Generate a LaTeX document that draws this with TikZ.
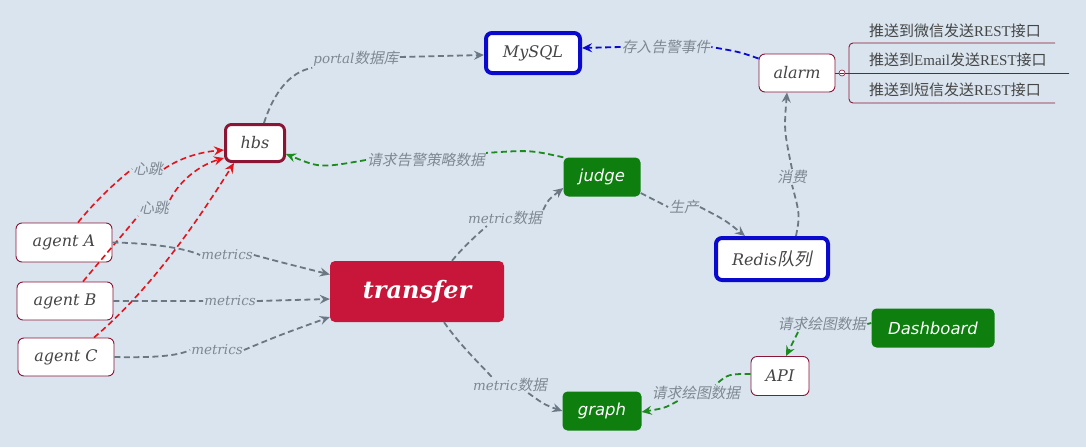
\documentclass[tikz,border=0pt]{standalone}
\usepackage{fontspec}
\setmainfont{DejaVu Serif}
\newfontfamily\sansf{DejaVu Sans}
\newfontfamily\cjk{Noto Sans CJK SC}
\newfontfamily\cjksl[FakeSlant=0.2,Scale=1.09]{Noto Sans CJK SC}
\newfontfamily\tms{Liberation Serif}
\usetikzlibrary{arrows.meta}
\definecolor{bgc}{HTML}{D9E4EE}
\definecolor{grayc}{HTML}{6B7783}
\definecolor{lblc}{HTML}{7D8893}
\definecolor{redc}{HTML}{E3131B}
\definecolor{greenl}{HTML}{1C8A1C}
\definecolor{greenf}{HTML}{0E7F0E}
\definecolor{bluec}{HTML}{0A0ACF}
\definecolor{dred}{HTML}{8A1535}
\definecolor{crim}{HTML}{C8153A}
\definecolor{txtc}{HTML}{454545}
\newcommand\zh[1]{{\cjksl #1}}
\tikzset{
  box/.style={rectangle, rounded corners=6pt, inner sep=0pt},
  wbox/.style={box, fill=white, draw=dred, line width=0.9pt, text=txtc, font=\fontsize{16}{19}\selectfont\itshape},
  bluebox/.style={wbox, draw=bluec, line width=4pt},
  hbsbox/.style={wbox, draw=dred, line width=3pt},
  gbox/.style={box, rounded corners=5pt, fill=greenf, text=white, font=\fontsize{16.5}{19}\selectfont\sansf\itshape},
  lbl/.style={inner sep=1pt, text=lblc, font=\fontsize{13.5}{16}\selectfont\itshape},
  arr/.style={-{Stealth[length=10pt,width=9pt,inset=3.5pt]}},
  gline/.style={draw=grayc, line width=1.8pt, dash pattern=on 6pt off 3.5pt, arr},
  rline/.style={draw=redc, line width=1.6pt, dash pattern=on 6pt off 3.5pt, arr},
  grline/.style={draw=greenl, line width=1.8pt, dash pattern=on 6pt off 3.5pt, arr},
  bline/.style={draw=bluec, line width=1.8pt, dash pattern=on 6pt off 3.5pt, arr},
  litem/.style={anchor=west, inner sep=0pt, text=txtc, font=\fontsize{15}{17}\selectfont}
}
\begin{document}
\begin{tikzpicture}[x=1pt,y=-1pt]
\fill[bgc] (0,0) rectangle (1086,447);
\useasboundingbox (0,0) rectangle (1086,447);

% nodes
\node[bluebox, minimum width=94, minimum height=40] (mysql) at (533,53) {MySQL};
\node[hbsbox, minimum width=59, minimum height=37] (hbs) at (255,143) {hbs};
\node[wbox, minimum width=76, minimum height=38] (alarm) at (797,73) {alarm};
\node[gbox, minimum width=77, minimum height=39] (judge) at (602,177) {judge};
\node[bluebox, minimum width=112, minimum height=42] (redis) at (772,259) {Redis\zh{队列}};
\node[box, rounded corners=5pt, fill=crim, text=white, minimum width=174, minimum height=61,
      font=\fontsize{24}{27}\selectfont\bfseries\itshape] (tr) at (417,291.5) {transfer};
\node[wbox, minimum width=96, minimum height=39] (agA) at (64,242.5) {agent A};
\node[wbox, minimum width=96, minimum height=38] (agB) at (65,301) {agent B};
\node[wbox, minimum width=96, minimum height=38] (agC) at (66,357) {agent C};
\node[gbox, minimum width=123, minimum height=39] (dash) at (933,328) {Dashboard};
\node[wbox, minimum width=58, minimum height=39] (api) at (780,376) {API};
\node[gbox, minimum width=79, minimum height=39] (graph) at (602,411) {graph};

% labels
\node[lbl] (l1) at (356,59) {portal\zh{数据库}};
\node[lbl] (l2) at (666,47) {\zh{存入告警事件}};
\node[lbl] (l3) at (426,160) {\zh{请求告警策略数据}};
\node[lbl] (h1) at (148,169) {\zh{心跳}};
\node[lbl] (h2) at (154,208) {\zh{心跳}};
\node[lbl] (lA) at (227,255) {metrics};
\node[lbl] (lB) at (230,301) {metrics};
\node[lbl] (lC) at (217,350) {metrics};
\node[lbl] (lm1) at (505,218) {metric\zh{数据}};
\node[lbl] (lm2) at (510,385) {metric\zh{数据}};
\node[lbl] (lp) at (684,207) {\zh{生产}};
\node[lbl] (lx) at (792,177) {\zh{消费}};
\node[lbl] (ld) at (822,324) {\zh{请求绘图数据}};
\node[lbl] (lg) at (696,393) {\zh{请求绘图数据}};

% connectors
\draw[gline] ([xshift=9pt]hbs.north) .. controls (274,92) and (290,72) .. (l1.south west)
             ([yshift=2pt]l1.east) -- ([yshift=-2pt]mysql.west);
\draw[bline] ([yshift=-5pt]alarm.north west) .. controls (740,52) .. (l2.east)
             (l2.west) -- ([yshift=5pt]mysql.east);
\draw[grline] (judge.north west) .. controls (530,150) .. ([yshift=-1pt]l3.north east)
              (l3.west) .. controls (320,168) .. ([yshift=-11pt]hbs.east);
\draw[rline] ([xshift=14pt]agA.north) .. controls (92,205) and (112,185) .. (h1.west)
             (h1.east) .. controls (180,158) and (200,152) .. ([yshift=-7pt]hbs.west);
\draw[rline] ([xshift=18pt]agB.north) .. controls (105,255) and (125,232) .. (h2.south west)
             (h2.north east) .. controls (180,180) and (200,165) .. ([yshift=5pt]hbs.south west);
\draw[rline] ([xshift=28pt]agC.north) .. controls (150,290) and (195,225) .. ([xshift=10pt]hbs.south west);
\draw[gline] (agA.east) .. controls (150,243) and (185,248) .. (lA.west)
             (lA.east) .. controls (280,262) .. ([yshift=17pt]tr.west);
\draw[gline] (agB.east) -- (lB.west) (lB.east) -- ([yshift=-7.5pt]tr.west);
\draw[gline] (agC.east) .. controls (160,358) and (180,355) .. (lC.west)
             (lC.east) .. controls (280,335) .. ([yshift=-25.5pt]tr.west);
\draw[gline] ([xshift=35pt]tr.north) .. controls (465,245) and (478,234) .. ([xshift=20pt]lm1.south west)
             (lm1.north east) .. controls (548,200) .. ([yshift=-11pt]judge.west);
\draw[gline] ([xshift=27pt]tr.south) .. controls (460,345) and (478,362) .. ([xshift=20pt]lm2.north west)
             ([xshift=-20pt]lm2.south east) .. controls (545,405) .. (graph.west);
\draw[gline] ([yshift=-16pt]judge.east) -- (lp.west)
             (lp.east) .. controls (725,220) .. ([xshift=-27pt]redis.north);
\draw[gline] ([xshift=24pt]redis.north) .. controls (800,215) .. (lx.south)
             (lx.north) .. controls (784,130) .. ([xshift=-10pt]alarm.south);
\draw[grline] ([yshift=5pt]dash.west) -- (ld.east)
              ([xshift=-24pt]ld.south) -- ([xshift=6pt]api.north);
\draw[grline] ([yshift=2pt]api.west) .. controls (728,374) .. ([xshift=-26pt]lg.north east)
              ([xshift=27pt]lg.south west) .. controls (665,408) .. ([yshift=-1pt]graph.east);

% alarm sub-list
\node[circle, draw=dred, fill=white, line width=0.6pt, minimum size=6pt, inner sep=0pt] (coll) at (842,73) {};
\draw[dred, line width=0.5pt] ([xshift=-1.6pt]coll.center) -- ([xshift=1.6pt]coll.center);
\coordinate (e1) at (1055,43);
\coordinate (e2) at (1069,73);
\coordinate (e3) at (1055,103);
\draw[dred, line width=0.9pt] (alarm.east) -- (coll.west);
\draw[dred, line width=0.9pt] (coll.east) -- (e2);
\draw[dred, line width=0.9pt, rounded corners=4pt] (e1) -- (849,43) -- (849,103) -- (e3);
\node[litem] (i1) at (869,31) {{\cjk 推送到微信发送}{\tms REST}{\cjk 接口}};
\node[litem] (i2) at (869,60) {{\cjk 推送到}{\tms Email}{\cjk 发送}{\tms REST}{\cjk 接口}};
\node[litem] (i3) at (869,90) {{\cjk 推送到短信发送}{\tms REST}{\cjk 接口}};
\end{tikzpicture}
\end{document}
